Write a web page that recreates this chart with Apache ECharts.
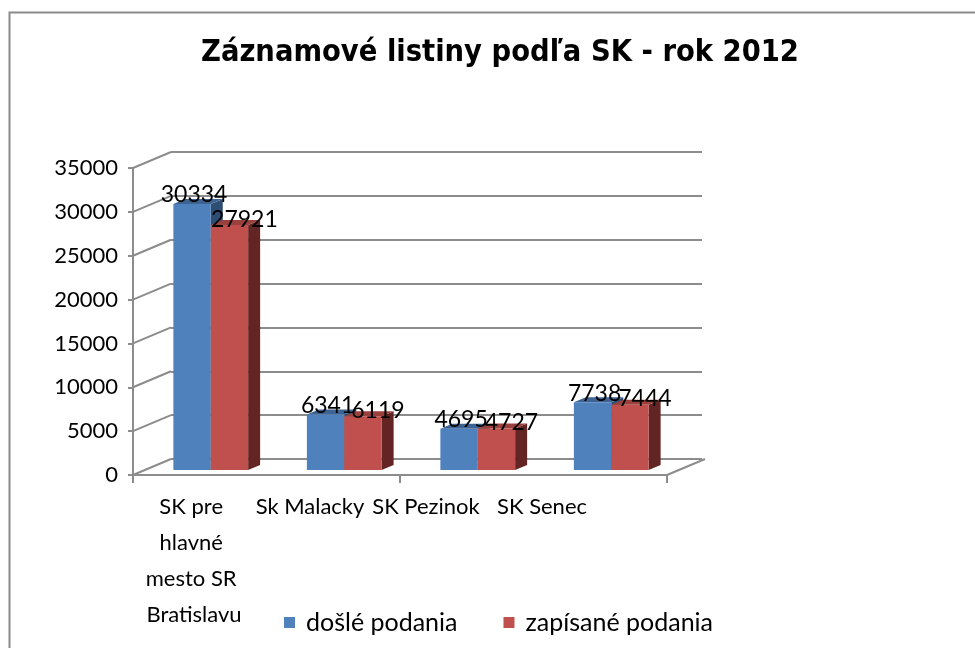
<!DOCTYPE html>
<html>
<head>
<meta charset="utf-8">
<script src="https://cdn.jsdelivr.net/npm/echarts@6/dist/echarts.min.js"></script>
<style>
html,body{margin:0;padding:0;background:#fff;}
#c{width:975px;height:648px;}
</style>
</head>
<body>
<div id="c"></div>
<script>
const titleText = 'Záznamové listiny podľa SK - rok 2012';
const categories = ['SK pre hlavné mesto SR Bratislavu', 'Sk Malacky', 'SK Pezinok', 'SK Senec'];
const seriesNames = ['došlé podania', 'zapísané podania'];
const dosle = [30334, 6341, 4695, 7738];
const zapisane = [27921, 6119, 4727, 7444];
const yTicks = [0, 5000, 10000, 15000, 20000, 25000, 30000, 35000];

const GRID = '#8c8c8c';
const FONT = 'Lato';
// 3D offsets (style)
const WALL_DX = 38, WALL_DY = -16;
const BAR_DX = 11, BAR_DY = -5;
const DEPTH_DX = 12, DEPTH_DY = -5;

const colors = [
  {front:'#4F81BD', top:'#3C6392', side:'#2E4D73'},
  {front:'#C0504D', top:'#9A413E', side:'#632523'}
];

function barRender(si){
  return function(params, api){
    const ci = api.value(0), v = api.value(1);
    const band = api.size([1,0])[0];
    const top = api.coord([ci, v]);
    const base = api.coord([ci, 0]);
    const w = band * 0.28;
    const cx = top[0] + BAR_DX;
    const x0 = si === 0 ? cx - w : cx;
    const x1 = x0 + w;
    const yt = top[1] + BAR_DY, yb = base[1] + BAR_DY;
    const c = colors[si];
    return {type:'group', children:[
      {type:'polygon', shape:{points:[[x1,yt],[x1+DEPTH_DX,yt+DEPTH_DY],[x1+DEPTH_DX,yb+DEPTH_DY],[x1,yb]]}, style:{fill:c.side}},
      {type:'polygon', shape:{points:[[x0,yt],[x1,yt],[x1+DEPTH_DX,yt+DEPTH_DY],[x0+DEPTH_DX,yt+DEPTH_DY]]}, style:{fill:c.top}},
      {type:'rect', shape:{x:x0, y:yt, width:w, height:yb-yt}, style:{fill:c.front}}
    ]};
  };
}

function labelRender(si){
  return function(params, api){
    const ci = api.value(0), v = api.value(1);
    const band = api.size([1,0])[0];
    const top = api.coord([ci, v]);
    const w = band * 0.28;
    const cx = top[0] + BAR_DX;
    const mid = si === 0 ? cx - w/2 + 2 : cx + w/2 + 15;
    const y = top[1] + BAR_DY - (si === 0 ? 9 : 6);
    return {type:'text', x: mid, y: y, style:{text: String(v), fill:'#000', font:'23px ' + FONT, align:'center', verticalAlign:'middle'}};
  };
}

function diagRender(params, api){
  const v = api.value(1);
  const band = api.size([1,0])[0];
  const p = api.coord([0, v]);
  const x = p[0] - band/2;
  const children = [{type:'line', shape:{x1:x, y1:p[1], x2:x+WALL_DX, y2:p[1]+WALL_DY}, style:{stroke:GRID, lineWidth:2}}];
  if (v === 0) {
    const q = api.coord([categories.length-1, 0]);
    const xr = q[0] + band/2;
    children.push({type:'line', shape:{x1:xr, y1:q[1], x2:xr+WALL_DX, y2:q[1]+WALL_DY}, style:{stroke:GRID, lineWidth:2}});
  }
  return {type:'group', children};
}

const chart = echarts.init(document.getElementById('c'), null, {renderer:'canvas'});
chart.setOption({
  animation:false,
  backgroundColor:'#fff',
  textStyle:{fontFamily:FONT},
  title:{text:titleText, left:201, top:33, padding:0,
    textStyle:{fontFamily:'DejaVu Sans Condensed, DejaVu Sans, sans-serif', fontWeight:'bold', fontSize:30.5, color:'#000', lineHeight:40}},
  graphic:[{type:'rect', left:7, top:10, shape:{width:1100, height:800}, style:{fill:null, stroke:'#8a8a8a', lineWidth:2}, silent:true}],
  legend:{data:seriesNames, left:279, top:605, itemWidth:11, itemHeight:11, itemGap:46, icon:'rect',
    textStyle:{fontSize:25, color:'#000', fontFamily:FONT, padding:[0,0,0,6]}},
  grid:[
    {left:133, right:308, top:168, bottom:173},
    {left:171, right:273, top:152, bottom:189},
    {left:136, right:375, top:168, bottom:173}
  ],
  xAxis:[
    {gridIndex:0, type:'category', data:categories, axisLine:{lineStyle:{color:GRID, width:2}}, axisTick:{show:true, length:8, lineStyle:{color:GRID, width:2}}, axisLabel:{show:false}},
    {gridIndex:1, type:'category', data:categories, show:false},
    {gridIndex:2, type:'category', data:categories, axisLine:{show:false}, axisTick:{show:false},
      axisLabel:{interval:0, margin:14, fontSize:22, color:'#000', lineHeight:36, width:112, overflow:'break', fontFamily:FONT}}
  ],
  yAxis:[
    {gridIndex:0, type:'value', min:0, max:35000, interval:5000, axisLine:{show:true, lineStyle:{color:GRID, width:2}}, axisTick:{show:true, length:5, lineStyle:{color:GRID, width:2}}, splitLine:{show:false},
      axisLabel:{margin:15, fontSize:22, color:'#000', fontFamily:FONT, formatter: v => String(v)}},
    {gridIndex:1, type:'value', min:0, max:35000, interval:5000, axisLine:{show:false}, axisTick:{show:false}, axisLabel:{show:false}, splitLine:{show:true, lineStyle:{color:GRID, width:2}}},
    {gridIndex:2, type:'value', min:0, max:35000, show:false}
  ],
  series:[
    {type:'custom', name:'walls', coordinateSystem:'cartesian2d', xAxisIndex:0, yAxisIndex:0, z:1, silent:true,
      data: yTicks.map(v => [0, v]), renderItem: diagRender},
    {type:'custom', name:seriesNames[0], coordinateSystem:'cartesian2d', xAxisIndex:0, yAxisIndex:0, z:2, itemStyle:{color:colors[0].front},
      data: dosle.map((v,i) => [i, v]), renderItem: barRender(0)},
    {type:'custom', name:seriesNames[1], coordinateSystem:'cartesian2d', xAxisIndex:0, yAxisIndex:0, z:2, itemStyle:{color:colors[1].front},
      data: zapisane.map((v,i) => [i, v]), renderItem: barRender(1)},
    {type:'custom', name:'lbl0', coordinateSystem:'cartesian2d', xAxisIndex:0, yAxisIndex:0, z:5, silent:true,
      data: dosle.map((v,i) => [i, v]), renderItem: labelRender(0)},
    {type:'custom', name:'lbl1', coordinateSystem:'cartesian2d', xAxisIndex:0, yAxisIndex:0, z:5, silent:true,
      data: zapisane.map((v,i) => [i, v]), renderItem: labelRender(1)}
  ]
});
</script>
</body>
</html>
